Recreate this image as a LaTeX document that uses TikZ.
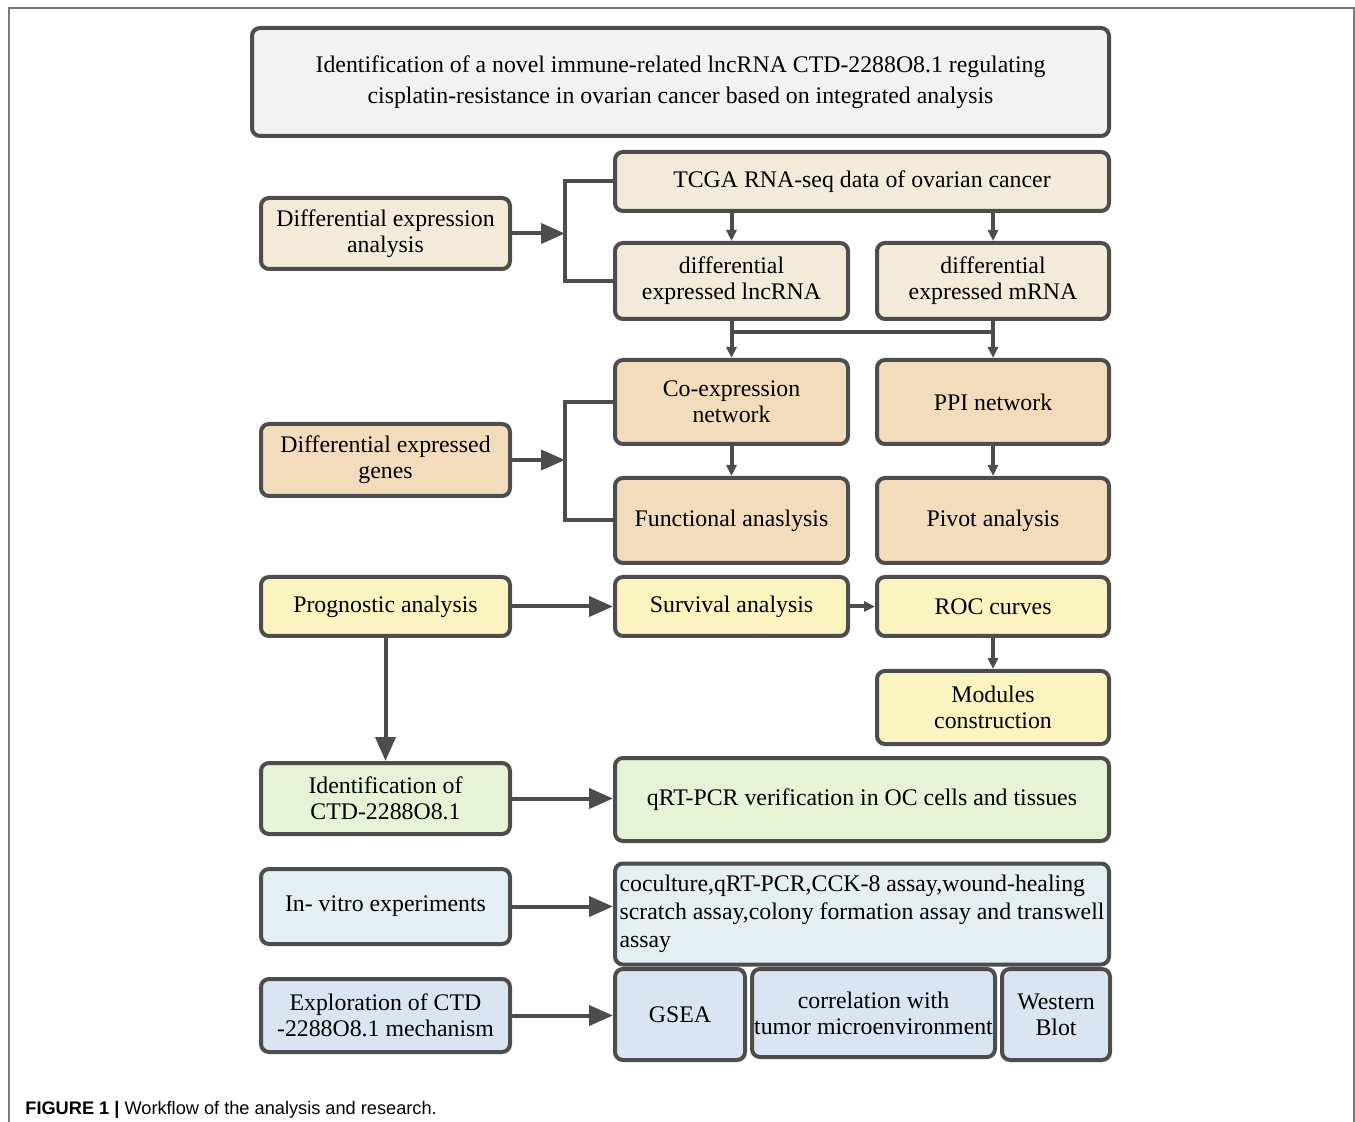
\documentclass[tikz,border=0pt]{standalone}
\usepackage{fontspec}
\setmainfont{Liberation Serif}
\setsansfont{Liberation Sans}
\usepackage{tikz}
\usetikzlibrary{arrows.meta, positioning}
\definecolor{edgegray}{HTML}{4D4D4D}
\definecolor{framegray}{HTML}{7A7A7A}
\definecolor{titlefill}{HTML}{F2F2F2}
\definecolor{beige}{HTML}{F3EAD9}
\definecolor{tan}{HTML}{F2DCBC}
\definecolor{lemon}{HTML}{FBF4C1}
\definecolor{mint}{HTML}{E6F3D5}
\definecolor{ice}{HTML}{E3EFF3}
\definecolor{sky}{HTML}{D9E5F3}
\tikzset{
  box/.style={draw=edgegray, line width=2pt, rounded corners=4pt,
    align=center, inner sep=1pt, font=\fontsize{11.9}{13}\selectfont},
  sz/.style 2 args={minimum width=#1*0.5pt, minimum height=#2*0.5pt},
  link/.style={draw=edgegray, line width=2pt},
  bigarr/.style={link, -{Triangle[length=12pt, width=10pt]}},
  smallarr/.style={link, -{Triangle[length=5.5pt, width=5pt]}},
}

\begin{document}
\begin{tikzpicture}[x=0.5pt, y=-0.5pt]
  \useasboundingbox (0,0) rectangle (1355,1122);
  \draw[framegray, line width=0.8pt] (9,1122) |- (1354,8) -- (1354,1122);

  \node[box, fill=titlefill, sz={857}{108}, font=\fontsize{11.9}{15.5}\selectfont]
    (head) at (680.5,82)
    {Identification of a novel immune-related lncRNA CTD-2288O8.1 regulating\\
     cisplatin-resistance in ovarian cancer based on integrated analysis};

  \node[box, fill=beige, sz={249}{71}] (dea)    at (385.5,233.5) {Differential expression\\analysis};
  \node[box, fill=beige, sz={494}{59}] (tcga)   at (862,181.5)   {TCGA RNA-seq data of ovarian cancer};
  \node[box, fill=beige, sz={233}{76}] (lnc)    at (731.5,281)   {differential\\expressed lncRNA};
  \node[box, fill=beige, sz={232}{76}] (mrna)   at (993,281)     {differential\\expressed mRNA};

  \node[box, fill=tan, sz={249}{72}]   (deg)    at (385.5,460)   {Differential expressed\\genes};
  \node[box, fill=tan, sz={233}{84}]   (coexp)  at (731.5,402)   {Co-expression\\network};
  \node[box, fill=tan, sz={232}{84}]   (ppi)    at (993,402)     {PPI network};
  \node[box, fill=tan, sz={233}{85}]   (func)   at (731.5,520.5) {Functional anaslysis};
  \node[box, fill=tan, sz={232}{85}]   (pivot)  at (993,520.5)   {Pivot analysis};

  \node[box, fill=lemon, sz={249}{59}] (prog)   at (385.5,606.5) {Prognostic analysis};
  \node[box, fill=lemon, sz={233}{59}] (surv)   at (731.5,606.5) {Survival analysis};
  \node[box, fill=lemon, sz={232}{59}] (roc)    at (993,606.5)   {ROC curves};
  \node[box, fill=lemon, sz={232}{73}] (mods)   at (993,707.5)   {Modules\\construction};

  \node[box, fill=mint, sz={249}{71}]  (ident)  at (385.5,798.5) {Identification of\\CTD-2288O8.1};
  \node[box, fill=mint, sz={494}{83}]  (qpcr)   at (862,799.5)   {qRT-PCR verification in OC cells and tissues};

  \node[box, fill=ice, sz={249}{75}]   (vitro)  at (385.5,906.5) {In- vitro experiments};
  \node[box, fill=ice, sz={494}{101}, align=left, font=\fontsize{11.9}{14}\selectfont]
    (assays) at (862,914)
    {coculture,qRT-PCR,CCK-8 assay,wound-healing\\
     scratch assay,colony formation assay and transwell\\
     assay};

  \node[box, fill=sky, sz={249}{73}]   (explo)  at (385.5,1015.5) {Exploration of CTD\\-2288O8.1 mechanism};
  \node[box, fill=sky, sz={130}{91}]   (gsea)   at (680,1014.5)  {GSEA};
  \node[box, fill=sky, sz={243}{88}]   (corr)   at (873.5,1013)  {correlation with\\tumor microenvironment};
  \node[box, fill=sky, sz={108}{91}]   (wb)     at (1056,1014.5) {Western\\Blot};

  \coordinate (fork1) at (565,233.5);
  \coordinate (fork2) at (565,460);
  \coordinate (bar)   at (862,332);

  \draw[bigarr] (dea) -- (fork1);
  \draw[link] (tcga.west) -| (fork1) |- (lnc.west);
  \draw[smallarr] (lnc.north |- tcga.south) -- (lnc);
  \draw[smallarr] (mrna.north |- tcga.south) -- (mrna);
  \draw[smallarr] (lnc) -- (coexp);
  \draw[smallarr] (mrna) -- (ppi);
  \draw[link] (lnc.south |- bar) -- (mrna.south |- bar);

  \draw[bigarr] (deg) -- (fork2);
  \draw[link] (coexp.west) -| (fork2) |- (func.west);
  \draw[smallarr] (coexp) -- (func);
  \draw[smallarr] (ppi) -- (pivot);

  \draw[bigarr] (prog) -- (surv);
  \draw[smallarr] (surv) -- (roc);
  \draw[smallarr] (roc) -- (mods);
  \draw[bigarr] (prog) -- (ident);

  \draw[bigarr] (ident) -- (ident -| qpcr.west);
  \draw[bigarr] (vitro) -- (vitro -| assays.west);
  \draw[bigarr] (explo) -- (explo -| gsea.west);

  \node[anchor=base west, inner sep=0, font=\sffamily\fontsize{9.1}{11}\selectfont]
    (caption) at (25,1114) {\textbf{FIGURE 1 |} Workflow of the analysis and research.};
\end{tikzpicture}
\end{document}
